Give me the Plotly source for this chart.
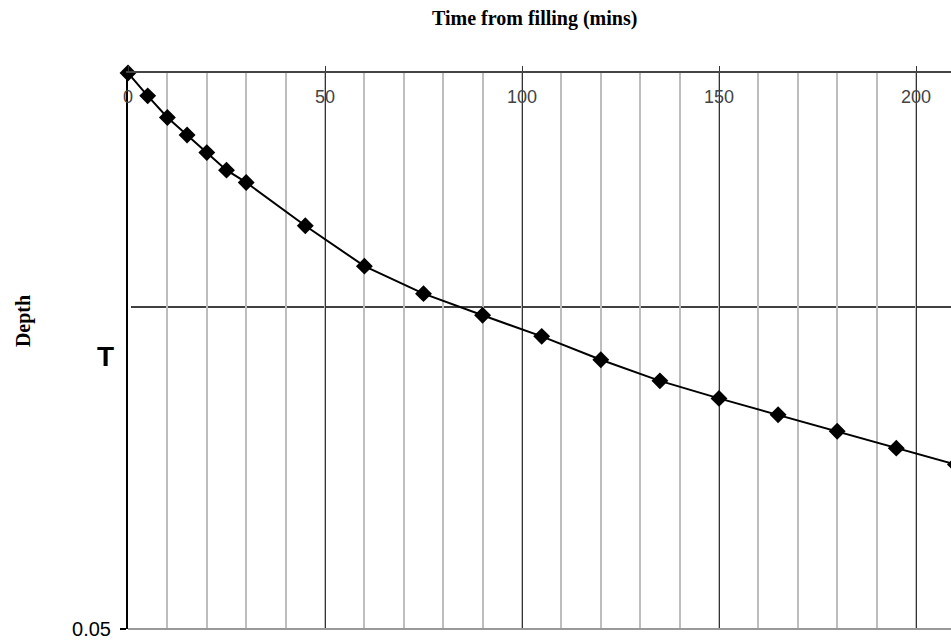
import plotly.graph_objects as go

# Data
time_mins = [0, 5, 10, 15, 20, 25, 30, 45, 60, 75, 90, 105, 120, 135, 150, 165, 180, 195, 210]
depth = [1.000, 0.961, 0.924, 0.894, 0.864, 0.834, 0.813, 0.739, 0.670, 0.623, 0.586,
         0.550, 0.510, 0.474, 0.444, 0.416, 0.388, 0.359, 0.331]
x_ticks = [0, 50, 100, 150, 200]
y_ticks = [0.05]
y_tick_labels = ["0.05"]
ref_depth = 0.6

FIG_W, FIG_H = 966, 640
L, T, B = 128, 73, 9
PW = FIG_W - L
PH = FIG_H - T - B
PX_PER_MIN = 3.94

fig = go.Figure()
fig.add_trace(go.Scatter(
    x=time_mins, y=depth, mode="lines+markers",
    line=dict(color="black", width=2),
    marker=dict(symbol="diamond", size=13, color="black"),
    cliponaxis=False, showlegend=False,
))

fig.update_layout(
    width=FIG_W, height=FIG_H,
    margin=dict(l=L, r=0, t=T, b=B),
    paper_bgcolor="white", plot_bgcolor="white",
    font=dict(family="Liberation Sans, Arial", size=18, color="black"),
    xaxis=dict(
        side="top", range=[0, PW / PX_PER_MIN],
        tickvals=x_ticks, ticks="outside", ticklen=5, tickcolor="#333",
        ticklabelposition="inside", ticklabelstandoff=18, ticklabeloverflow="allow",
        showline=True, linecolor="#444", linewidth=2,
        showgrid=True, gridcolor="#333", gridwidth=1,
        minor=dict(dtick=10, showgrid=True, gridcolor="#bdbdbd", gridwidth=1.5),
        zeroline=False,
    ),
    yaxis=dict(
        range=[0.05, 1.0],
        tickvals=y_ticks, ticktext=y_tick_labels,
        tickfont=dict(size=20),
        ticks="outside", ticklen=6, tickcolor="black", tickwidth=2,
        ticklabeloverflow="allow", ticklabelstandoff=5,
        showline=True, linecolor="black", linewidth=2,
        showgrid=False, zeroline=False,
    ),
    shapes=[
        dict(type="line", xref="paper", yref="y", x0=3 / PW, x1=1, y0=ref_depth, y1=ref_depth,
             line=dict(color="black", width=1.5), layer="below"),
        dict(type="line", xref="paper", yref="paper", x0=0, x1=1, y0=0, y1=0,
             line=dict(color="#999", width=2), layer="above"),
    ],
    annotations=[
        dict(text="<b>Time from filling (mins)</b>", xref="paper", yref="paper",
             x=(534 - L) / PW, y=1, yshift=T - 18, showarrow=False,
             font=dict(family="Liberation Serif, Times New Roman", size=20, color="black"),
             xanchor="center", yanchor="middle"),
        dict(text="<b>Depth</b>", xref="paper", yref="paper",
             x=0, xshift=23 - L, y=(631 - 322) / PH, showarrow=False, textangle=-90,
             font=dict(family="Liberation Serif, Times New Roman", size=20, color="black"),
             xanchor="center", yanchor="middle"),
        dict(text="<b>T</b>", xref="paper", yref="paper",
             x=0, xshift=105 - L, y=(631 - 358) / PH, showarrow=False,
             font=dict(family="Liberation Sans, Arial", size=28, color="black"),
             xanchor="center", yanchor="middle"),
    ],
)

fig.write_html("out.html", config={"displayModeBar": False},
               post_script="document.body.style.margin='0';document.body.style.overflow='hidden';"
                           "document.documentElement.style.overflow='hidden';")
